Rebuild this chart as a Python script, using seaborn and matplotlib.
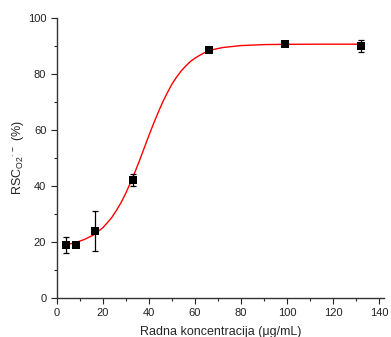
import numpy as np
import pandas as pd
import matplotlib
matplotlib.use("Agg")
import matplotlib.pyplot as plt
import seaborn as sns
from matplotlib.ticker import MultipleLocator

# izmerene tacke
conc = [4.125, 8.25, 16.5, 33, 66, 99, 132]
rsc = [18.9, 18.8, 23.9, 42.0, 88.6, 90.8, 90.1]
rsc_err = [2.8, 0.4, 7.2, 2.1, 0.5, 0.6, 2.2]

# fitovana kriva (ocitano sa slike)
fit_x = [4, 8, 12, 16, 20, 22, 24, 26, 28, 30, 32, 34, 36, 38, 40, 42, 44, 46, 48,
         50, 52, 54, 56, 58, 60, 62, 64, 68, 72, 80, 90, 100, 115, 132]
fit_y = [18.9, 19.6, 20.8, 22.4, 25.0, 26.8, 28.8, 31.3, 34.1, 37.4, 41.1, 45.0, 49.2, 53.6, 58.0, 62.2, 66.2, 70.0, 73.3,
         76.4, 78.9, 81.1, 82.9, 84.5, 85.7, 86.7, 87.6, 88.8, 89.5, 90.2, 90.55, 90.65, 90.7, 90.7]

sns.set_style("ticks")
plt.rcParams["font.family"] = ["Liberation Sans", "DejaVu Sans"]
plt.rcParams["mathtext.fontset"] = "custom"
plt.rcParams["mathtext.rm"] = "Liberation Sans"
plt.rcParams["mathtext.it"] = "Liberation Sans:italic"

fig = plt.figure(figsize=(3.91, 3.37), dpi=100)
ax = fig.add_axes([0.145, 0.117, 0.837, 0.829])

df_fit = pd.DataFrame({"x": fit_x, "y": fit_y})
df_pts = pd.DataFrame({"x": conc, "y": rsc})

sns.lineplot(data=df_fit, x="x", y="y", color="red", linewidth=1.0, ax=ax)
ax.errorbar(conc, rsc, yerr=rsc_err, fmt="none", ecolor="black",
            elinewidth=0.9, capsize=2.5, capthick=0.9, zorder=3)
sns.scatterplot(data=df_pts, x="x", y="y", marker="s", color="black",
                s=36, edgecolor="black", linewidth=0, zorder=4, ax=ax)

ax.set_xlim(0, 142)
ax.set_ylim(0, 100)
ax.xaxis.set_major_locator(MultipleLocator(20))
ax.xaxis.set_minor_locator(MultipleLocator(10))
ax.yaxis.set_major_locator(MultipleLocator(20))
ax.yaxis.set_minor_locator(MultipleLocator(10))
ax.tick_params(which="major", direction="out", length=4, width=0.8, labelsize=8, colors="#222222")
ax.tick_params(which="minor", direction="out", length=2.5, width=0.8)

for s in ["top", "right"]:
    ax.spines[s].set_visible(False)
for s in ["left", "bottom"]:
    ax.spines[s].set_linewidth(1.0)
    ax.spines[s].set_color("#333333")

ax.set_xlabel("Radna koncentracija (μg/mL)", fontsize=9, labelpad=6)
ax.set_ylabel(r"RSC$_{\mathrm{O2}}$$^{\cdot\,-}$ (%)", fontsize=9, labelpad=1)

fig.savefig("out.png", dpi=100)
